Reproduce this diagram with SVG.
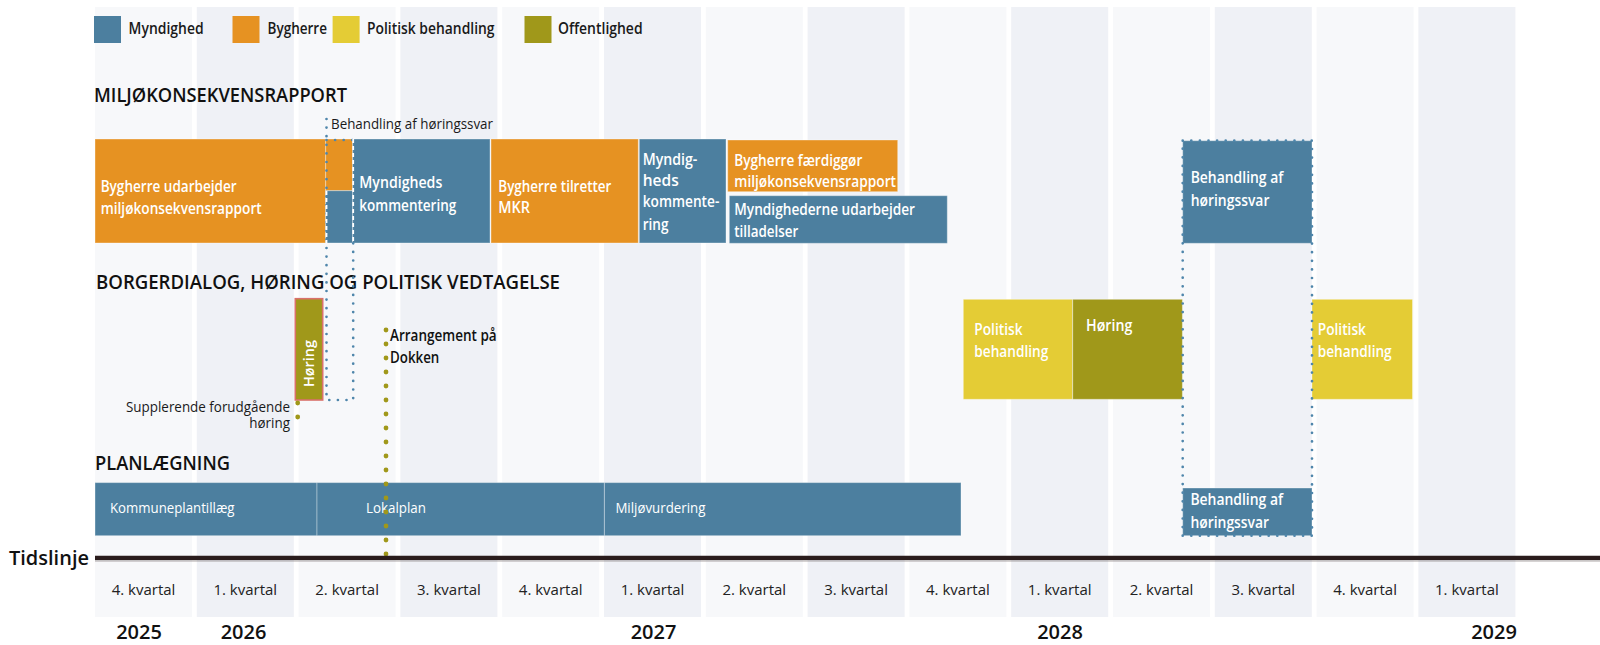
<svg xmlns="http://www.w3.org/2000/svg" width="1600" height="645" viewBox="0 0 1600 645">
<style>
text{font-family:"Open Sans","Noto Sans","Liberation Sans",sans-serif;}
.colL{fill:#f7f8fa;}
.colD{fill:#eff1f6;}
.blue{fill:#4c7f9f;stroke:#ffffff;stroke-opacity:0.35;stroke-width:1;}
.orange{fill:#e69222;stroke:#ffffff;stroke-opacity:0.35;stroke-width:1;}
.yellow{fill:#e4cc35;stroke:#ffffff;stroke-opacity:0.35;stroke-width:1;}
.olive{fill:#a0981a;stroke:#ffffff;stroke-opacity:0.35;stroke-width:1;}
.wt{fill:#ffffff;font-size:17px;font-weight:600;}
.wts{fill:#ffffff;font-size:14px;font-weight:500;}
.dk{fill:#1a1a1a;font-size:14.5px;font-weight:500;}
.hd{fill:#111111;font-size:20px;font-weight:600;}
.lg{fill:#1a1a1a;font-size:17px;font-weight:600;}
.q{fill:#222222;font-size:15px;font-weight:500;text-anchor:middle;}
.yr{fill:#111111;font-size:20px;font-weight:600;text-anchor:middle;}
.bdot{fill:none;stroke:#4f86ab;stroke-width:2.7;stroke-linecap:round;stroke-dasharray:0 8.6;}
.wdash{fill:none;stroke:#ffffff;stroke-width:1.8;stroke-dasharray:4 3;}
.odot{fill:none;stroke:#a0981a;stroke-width:4.8;stroke-linecap:round;stroke-dasharray:0 14;}
</style>
<rect x="0" y="0" width="1600" height="645" fill="#ffffff"/>
<g id="columns">
<rect class="colL" x="95" y="7" width="97" height="610"/>
<rect class="colD" x="196.8" y="7" width="97" height="610"/>
<rect class="colL" x="298.6" y="7" width="97" height="610"/>
<rect class="colD" x="400.4" y="7" width="97" height="610"/>
<rect class="colL" x="502.2" y="7" width="97" height="610"/>
<rect class="colD" x="604" y="7" width="97" height="610"/>
<rect class="colL" x="705.8" y="7" width="97" height="610"/>
<rect class="colD" x="807.6" y="7" width="97" height="610"/>
<rect class="colL" x="909.4" y="7" width="97" height="610"/>
<rect class="colD" x="1011.2" y="7" width="97" height="610"/>
<rect class="colL" x="1113" y="7" width="97" height="610"/>
<rect class="colD" x="1214.8" y="7" width="97" height="610"/>
<rect class="colL" x="1316.6" y="7" width="97" height="610"/>
<rect class="colD" x="1418.4" y="7" width="97" height="610"/>
</g>
<g id="legend">
<rect x="94" y="16" width="27" height="27" fill="#4c7f9f"/>
<text class="lg" x="128.6" y="34" textLength="75" lengthAdjust="spacingAndGlyphs">Myndighed</text>
<rect x="232.5" y="16" width="27" height="27" fill="#e69222"/>
<text class="lg" x="267.5" y="34" textLength="59.5" lengthAdjust="spacingAndGlyphs">Bygherre</text>
<rect x="332.6" y="16" width="27" height="27" fill="#e4cc35"/>
<text class="lg" x="367" y="34" textLength="127.5" lengthAdjust="spacingAndGlyphs">Politisk behandling</text>
<rect x="524.5" y="16" width="27" height="27" fill="#a0981a"/>
<text class="lg" x="558" y="34" textLength="84.6" lengthAdjust="spacingAndGlyphs">Offentlighed</text>
</g>
<g id="headers">
<text class="hd" x="94" y="102" textLength="253" lengthAdjust="spacingAndGlyphs">MILJØKONSEKVENSRAPPORT</text>
<text class="hd" x="96" y="288.5" textLength="464" lengthAdjust="spacingAndGlyphs">BORGERDIALOG, HØRING OG POLITISK VEDTAGELSE</text>
<text class="hd" x="95" y="470" textLength="135" lengthAdjust="spacingAndGlyphs">PLANLÆGNING</text>
</g>
<g id="node-bygherre-udarbejder">
<rect class="orange" x="95" y="139" width="230.7" height="104"/>
<text class="wt" x="100.7" y="191.7" textLength="136" lengthAdjust="spacingAndGlyphs">Bygherre udarbejder</text>
<text class="wt" x="100.7" y="214" textLength="161" lengthAdjust="spacingAndGlyphs">miljøkonsekvensrapport</text>
</g>
<g id="node-behandling-small">
<rect class="orange" x="325.7" y="139" width="27" height="51.7"/>
<rect class="blue" x="325.7" y="190.7" width="27" height="52.3"/>
<text class="dk" x="331" y="129" textLength="162" lengthAdjust="spacingAndGlyphs">Behandling af høringssvar</text>
</g>
<g id="node-myndigheds-kommentering">
<rect class="blue" x="352.7" y="139" width="137.3" height="104"/>
<text class="wt" x="359.3" y="188" textLength="83" lengthAdjust="spacingAndGlyphs">Myndigheds</text>
<text class="wt" x="359.3" y="210.7" textLength="97" lengthAdjust="spacingAndGlyphs">kommentering</text>
</g>
<g id="node-bygherre-tilretter">
<rect class="orange" x="491" y="139" width="147.3" height="104"/>
<text class="wt" x="498.3" y="191.7" textLength="113" lengthAdjust="spacingAndGlyphs">Bygherre tilretter</text>
<text class="wt" x="498.3" y="213.3" textLength="31.7" lengthAdjust="spacingAndGlyphs">MKR</text>
</g>
<g id="node-myndigheds-kommentering-2">
<rect class="blue" x="639.3" y="139" width="86.7" height="104"/>
<text class="wt" x="642.7" y="165" textLength="54.6" lengthAdjust="spacingAndGlyphs">Myndig-</text>
<text class="wt" x="642.7" y="186" textLength="36" lengthAdjust="spacingAndGlyphs">heds</text>
<text class="wt" x="642.7" y="207.3" textLength="76.6" lengthAdjust="spacingAndGlyphs">kommente-</text>
<text class="wt" x="642.7" y="230" textLength="25.7" lengthAdjust="spacingAndGlyphs">ring</text>
</g>
<g id="node-bygherre-faerdiggoer">
<rect class="orange" x="727.7" y="140" width="170" height="51.7"/>
<text class="wt" x="734.3" y="166" textLength="128" lengthAdjust="spacingAndGlyphs">Bygherre færdiggør</text>
<text class="wt" x="734.3" y="186.7" textLength="161.7" lengthAdjust="spacingAndGlyphs">miljøkonsekvensrapport</text>
</g>
<g id="node-myndighederne-tilladelser">
<rect class="blue" x="729.3" y="195.7" width="218" height="47.6"/>
<text class="wt" x="734.3" y="215" textLength="180.7" lengthAdjust="spacingAndGlyphs">Myndighederne udarbejder</text>
<text class="wt" x="734.3" y="236.7" textLength="64" lengthAdjust="spacingAndGlyphs">tilladelser</text>
</g>
<g id="node-behandling-top-right">
<rect class="blue" x="1182.7" y="140.7" width="129.3" height="102.6"/>
<text class="wt" x="1190.7" y="183.3" textLength="92.6" lengthAdjust="spacingAndGlyphs">Behandling af</text>
<text class="wt" x="1190.7" y="206" textLength="78.7" lengthAdjust="spacingAndGlyphs">høringssvar</text>
</g>
<g id="node-hoering-small">
<rect x="295.3" y="298.7" width="27.4" height="101.3" fill="#a0981a" stroke="#d9716b" stroke-width="1.6"/>
<text class="wt" transform="translate(313.5,387) rotate(-90)" x="0" y="0" style="font-size:15px" textLength="47" lengthAdjust="spacingAndGlyphs">Høring</text>
</g>
<g id="node-supplerende">
<text class="dk" x="290" y="411.7" text-anchor="end" textLength="164" lengthAdjust="spacingAndGlyphs">Supplerende forudgående</text>
<text class="dk" x="290" y="428.3" text-anchor="end" textLength="40.7" lengthAdjust="spacingAndGlyphs">høring</text>
</g>
<g id="node-arrangement">
<text x="390" y="340.7" style="fill:#111;font-size:17px;font-weight:600" textLength="106.7" lengthAdjust="spacingAndGlyphs">Arrangement på</text>
<text x="390" y="362.7" style="fill:#111;font-size:17px;font-weight:600" textLength="49.3" lengthAdjust="spacingAndGlyphs">Dokken</text>
</g>
<g id="node-politisk-1">
<rect class="yellow" x="963.3" y="299.3" width="109.2" height="100"/>
<text class="wt" x="974.3" y="335" textLength="48.3" lengthAdjust="spacingAndGlyphs">Politisk</text>
<text class="wt" x="974.3" y="357.3" textLength="74" lengthAdjust="spacingAndGlyphs">behandling</text>
</g>
<g id="node-hoering">
<rect class="olive" x="1072.7" y="299.3" width="109.7" height="100"/>
<text class="wt" x="1086" y="330.7" textLength="46.3" lengthAdjust="spacingAndGlyphs">Høring</text>
</g>
<g id="node-politisk-2">
<rect class="yellow" x="1312" y="299.3" width="100.5" height="100"/>
<text class="wt" x="1317.7" y="335" textLength="48.3" lengthAdjust="spacingAndGlyphs">Politisk</text>
<text class="wt" x="1317.7" y="357.3" textLength="74" lengthAdjust="spacingAndGlyphs">behandling</text>
</g>
<g id="node-kommuneplantillaeg">
<rect class="blue" x="95" y="482.6" width="222" height="53.1"/>
<text class="wts" x="110" y="513" textLength="124.5" lengthAdjust="spacingAndGlyphs">Kommuneplantillæg</text>
</g>
<g id="node-lokalplan">
<rect class="blue" x="317" y="482.6" width="287.4" height="53.1"/>
<text class="wts" x="366" y="513" textLength="60" lengthAdjust="spacingAndGlyphs">Lokalplan</text>
</g>
<g id="node-miljoevurdering">
<rect class="blue" x="604.4" y="482.6" width="356.6" height="53.1"/>
<text class="wts" x="615.4" y="513" textLength="90" lengthAdjust="spacingAndGlyphs">Miljøvurdering</text>
</g>
<g id="node-behandling-bottom-right">
<rect class="blue" x="1182.7" y="488" width="129.3" height="47.7"/>
<text class="wt" x="1190.4" y="505" textLength="92.6" lengthAdjust="spacingAndGlyphs">Behandling af</text>
<text class="wt" x="1190.4" y="527.6" textLength="78.7" lengthAdjust="spacingAndGlyphs">høringssvar</text>
</g>
<g id="connectors">
<path class="bdot" d="M326.5 119 V400 H353.2 V243"/>
<path class="bdot" d="M326.5 140 H353"/>
<path class="wdash" d="M353.2 139 V243"/>
<path class="wdash" d="M326.5 191 V243"/>
<path class="bdot" d="M1182.7 140.7 H1312 V535.7 H1182.7 Z"/>
<path class="odot" d="M386 330 V556"/>
<path class="odot" d="M297.7 403 V431"/>
</g>
<g id="timeline">
<line x1="95" y1="558" x2="1600" y2="558" stroke="#2a1c1c" stroke-width="4.4"/>
<line x1="95" y1="561.5" x2="1600" y2="561.5" stroke="#8a8080" stroke-width="1" stroke-opacity="0.35"/>
<text x="9" y="564.5" style="fill:#111;font-size:19px;font-weight:600" textLength="80" lengthAdjust="spacingAndGlyphs">Tidslinje</text>
<text class="q" x="143.5" y="595">4. kvartal</text>
<text class="q" x="245.3" y="595">1. kvartal</text>
<text class="q" x="347.1" y="595">2. kvartal</text>
<text class="q" x="448.9" y="595">3. kvartal</text>
<text class="q" x="550.7" y="595">4. kvartal</text>
<text class="q" x="652.5" y="595">1. kvartal</text>
<text class="q" x="754.3" y="595">2. kvartal</text>
<text class="q" x="856.1" y="595">3. kvartal</text>
<text class="q" x="957.9" y="595">4. kvartal</text>
<text class="q" x="1059.7" y="595">1. kvartal</text>
<text class="q" x="1161.5" y="595">2. kvartal</text>
<text class="q" x="1263.3" y="595">3. kvartal</text>
<text class="q" x="1365.1" y="595">4. kvartal</text>
<text class="q" x="1466.9" y="595">1. kvartal</text>
<text class="yr" x="139" y="639">2025</text>
<text class="yr" x="243.5" y="639">2026</text>
<text class="yr" x="653.5" y="639">2027</text>
<text class="yr" x="1060" y="639">2028</text>
<text class="yr" x="1494" y="639">2029</text>
</g>
</svg>
